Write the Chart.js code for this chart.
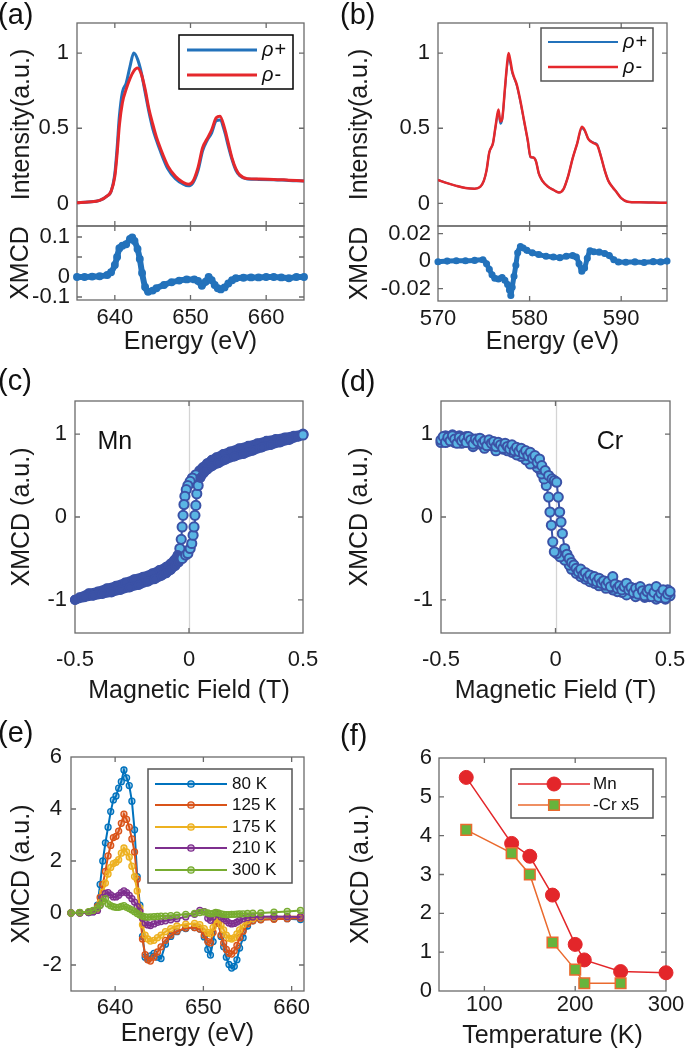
<!DOCTYPE html>
<html><head><meta charset="utf-8">
<script src="https://cdn.jsdelivr.net/npm/chart.js@4.4.1/dist/chart.umd.min.js"></script>
<style>
html,body{margin:0;padding:0;background:#fff;}
#fig{position:relative;width:685px;height:1051px;overflow:hidden;background:#fff;font-family:"Liberation Sans",Arial,sans-serif;}
#fig canvas{position:absolute;}
.plab{position:absolute;font-size:29px;line-height:29px;color:#111;white-space:nowrap;}
</style></head><body>
<div id="fig">
<canvas id="cA1"></canvas><canvas id="cA2"></canvas>
<canvas id="cB1"></canvas><canvas id="cB2"></canvas>
<canvas id="cC"></canvas><canvas id="cD"></canvas>
<canvas id="cE"></canvas><canvas id="cF"></canvas>
<div class="plab" style="left:-2px;top:0px">(a)</div>
<div class="plab" style="left:340px;top:0px">(b)</div>
<div class="plab" style="left:-2px;top:366px">(c)</div>
<div class="plab" style="left:340px;top:367px">(d)</div>
<div class="plab" style="left:-2px;top:718px">(e)</div>
<div class="plab" style="left:340px;top:721px">(f)</div>
</div>
<script>
// ---------------- DATA ----------------
// (a) Mn L-edge XAS
const aEnergy = [635, 636.5, 638, 639, 639.5, 640, 640.3, 640.6, 641, 641.5, 642, 642.5, 643, 643.5, 644, 644.5, 645, 645.5, 646, 647, 648, 649, 649.7, 650.3, 651, 651.6, 652.2, 652.8, 653.4, 653.9, 654.5, 655, 655.5, 656, 656.5, 657.5, 659, 661, 663, 665];
const aRhoPlus = [0.005, 0.01, 0.02, 0.05, 0.08, 0.2, 0.37, 0.58, 0.74, 0.80, 0.91, 1.0, 0.96, 0.87, 0.74, 0.61, 0.50, 0.42, 0.35, 0.23, 0.165, 0.13, 0.117, 0.135, 0.22, 0.35, 0.42, 0.47, 0.55, 0.555, 0.48, 0.38, 0.29, 0.22, 0.185, 0.162, 0.16, 0.158, 0.153, 0.15];
const aRhoMinus = [0.005, 0.01, 0.02, 0.05, 0.08, 0.18, 0.33, 0.52, 0.67, 0.76, 0.83, 0.88, 0.90, 0.86, 0.76, 0.63, 0.53, 0.44, 0.37, 0.25, 0.18, 0.14, 0.127, 0.145, 0.24, 0.37, 0.43, 0.49, 0.57, 0.58, 0.50, 0.40, 0.30, 0.23, 0.19, 0.165, 0.162, 0.16, 0.155, 0.15];
const aXmcdE = [635, 636, 637, 638, 639, 639.5, 640, 640.3, 640.6, 641, 641.5, 642, 642.3, 642.6, 643, 643.3, 643.6, 644, 644.4, 645, 645.5, 646.5, 647.5, 648.5, 649.5, 650.5, 651, 651.5, 652, 652.4, 652.8, 653.2, 653.6, 654, 654.5, 655, 655.5, 656, 657, 658, 659, 660, 661, 662, 663, 664, 665];
const aXmcd = [0, 0, 0.001, 0.002, 0.005, 0.012, 0.03, 0.05, 0.072, 0.078, 0.082, 0.095, 0.099, 0.09, 0.07, 0.045, 0.01, -0.025, -0.037, -0.034, -0.028, -0.02, -0.013, -0.009, -0.006, -0.006, -0.01, -0.022, -0.012, 0, -0.008, -0.02, -0.028, -0.031, -0.026, -0.016, -0.008, -0.003, -0.002, -0.001, -0.001, 0, 0, -0.001, -0.003, 0, 0];

// (b) Cr L-edge XAS
const bEnergy = [570, 571, 572, 573, 574, 574.6, 575, 575.3, 575.6, 576, 576.3, 576.6, 576.8, 577, 577.3, 577.5, 577.7, 577.9, 578.1, 578.3, 578.6, 579, 579.4, 579.8, 580.1, 580.4, 580.7, 581, 581.4, 582, 582.6, 583.2, 583.7, 584.2, 584.7, 585.2, 585.7, 586, 586.4, 587, 587.4, 587.8, 588.2, 588.6, 589.1, 589.5, 590, 590.7, 592, 593.5, 595];
const bRhoPlus = [0.156, 0.135, 0.117, 0.103, 0.098, 0.11, 0.15, 0.22, 0.34, 0.40, 0.515, 0.61, 0.53, 0.555, 0.75, 0.89, 0.97, 0.93, 0.87, 0.835, 0.785, 0.675, 0.545, 0.415, 0.305, 0.305, 0.28, 0.2, 0.15, 0.112, 0.09, 0.073, 0.095, 0.18, 0.30, 0.40, 0.50, 0.485, 0.43, 0.405, 0.39, 0.31, 0.22, 0.15, 0.105, 0.075, 0.035, 0.012, 0.008, 0.006, 0.004];
const bRhoMinus = [0.156, 0.135, 0.117, 0.103, 0.098, 0.11, 0.15, 0.22, 0.34, 0.40, 0.52, 0.625, 0.545, 0.56, 0.76, 0.90, 1.0, 0.95, 0.88, 0.84, 0.79, 0.68, 0.55, 0.42, 0.31, 0.305, 0.28, 0.2, 0.15, 0.112, 0.09, 0.073, 0.095, 0.18, 0.30, 0.40, 0.51, 0.49, 0.43, 0.40, 0.385, 0.31, 0.22, 0.15, 0.105, 0.075, 0.035, 0.012, 0.008, 0.006, 0.004];
const bXmcdE = [570, 571, 572, 573, 574, 574.9, 575.3, 575.6, 575.9, 576.2, 576.6, 577, 577.3, 577.6, 577.8, 577.95, 578.1, 578.3, 578.5, 578.7, 579, 579.3, 579.7, 580.3, 581, 581.8, 582.6, 583.3, 584, 584.7, 585.1, 585.4, 585.7, 586, 586.3, 586.6, 587, 587.6, 588.2, 588.7, 589.2, 589.7, 590.5, 591.5, 592.5, 593.5, 594.3, 595];
const bXmcd = [-0.0005, 0, 0.0003, 0.0002, 0.0005, 0.001, -0.002, -0.006, -0.01, -0.0125, -0.013, -0.012, -0.014, -0.017, -0.021, -0.025, -0.019, -0.011, -0.003, 0.006, 0.0105, 0.0095, 0.0078, 0.006, 0.0048, 0.0035, 0.003, 0.0025, 0.0035, 0.004, 0.003, -0.002, -0.0073, -0.005, 0.002, 0.0075, 0.0068, 0.0065, 0.0055, 0.004, 0.001, -0.0007, -0.0008, -0.0006, -0.001, -0.0004, -0.0006, 0];

// (c) Mn hysteresis
const cDownField = [0.5, 0.46, 0.42, 0.38, 0.34, 0.3, 0.26, 0.22, 0.18, 0.15, 0.12, 0.1, 0.08, 0.06, 0.045, 0.03, 0.015, 0.005, -0.005, -0.012, -0.018, -0.022, -0.026, -0.03, -0.034, -0.04, -0.05, -0.065, -0.08, -0.1, -0.13, -0.16, -0.2, -0.24, -0.28, -0.32, -0.36, -0.4, -0.44, -0.48, -0.5];
const cDownXmcd = [1.0, 0.98, 0.96, 0.94, 0.92, 0.89, 0.86, 0.83, 0.79, 0.76, 0.72, 0.69, 0.65, 0.6, 0.56, 0.51, 0.47, 0.43, 0.38, 0.33, 0.25, 0.15, 0.02, -0.12, -0.27, -0.38, -0.46, -0.52, -0.56, -0.6, -0.64, -0.68, -0.72, -0.75, -0.79, -0.83, -0.86, -0.9, -0.92, -0.97, -1.0];
const cUpField = [-0.5, -0.46, -0.42, -0.38, -0.34, -0.3, -0.26, -0.22, -0.18, -0.15, -0.12, -0.1, -0.08, -0.06, -0.045, -0.03, -0.015, -0.005, 0.005, 0.012, 0.018, 0.022, 0.026, 0.03, 0.034, 0.04, 0.05, 0.065, 0.08, 0.1, 0.13, 0.16, 0.2, 0.24, 0.28, 0.32, 0.36, 0.4, 0.44, 0.48, 0.5];
const cUpXmcd = [-1.0, -0.97, -0.95, -0.93, -0.91, -0.88, -0.85, -0.82, -0.78, -0.75, -0.71, -0.68, -0.64, -0.59, -0.55, -0.5, -0.46, -0.44, -0.38, -0.32, -0.22, -0.12, 0.02, 0.14, 0.28, 0.38, 0.47, 0.53, 0.57, 0.61, 0.65, 0.69, 0.73, 0.76, 0.8, 0.84, 0.87, 0.9, 0.93, 0.97, 0.99];

// (d) Cr hysteresis
const dUpField = [
  -0.5, -0.49, -0.48, -0.47, -0.46, -0.45, -0.44, -0.43, -0.42, -0.41,
  -0.4, -0.39, -0.38, -0.37, -0.36, -0.35, -0.34, -0.33, -0.32, -0.31,
  -0.3, -0.29, -0.28, -0.27, -0.26, -0.25, -0.24, -0.23, -0.22, -0.21,
  -0.2, -0.19, -0.18, -0.17, -0.16, -0.15, -0.14, -0.13, -0.12, -0.11,
  -0.1, -0.09, -0.08, -0.07, -0.06,
  -0.045, -0.03, -0.015, -0.005, 0.005, 0.012, 0.018, 0.024, 0.03, 0.04, 0.05,
  0.06, 0.07, 0.08, 0.09, 0.1, 0.11, 0.12, 0.13, 0.14, 0.15,
  0.16, 0.17, 0.18, 0.19, 0.2, 0.21, 0.22, 0.23, 0.24, 0.25,
  0.26, 0.27, 0.28, 0.29, 0.3, 0.31, 0.32, 0.33, 0.34, 0.35,
  0.36, 0.37, 0.38, 0.39, 0.4, 0.41, 0.42, 0.43, 0.44, 0.45,
  0.46, 0.47, 0.48, 0.49, 0.5];
const dUpXmcd = [
  0.93, 0.97, 0.90, 0.96, 0.92, 0.98, 0.94, 0.89, 0.96, 0.92,
  0.95, 0.90, 0.97, 0.93, 0.88, 0.94, 0.91, 0.95, 0.89, 0.92,
  0.86, 0.93, 0.89, 0.91, 0.85, 0.90, 0.87, 0.83, 0.89, 0.85,
  0.82, 0.87, 0.80, 0.84, 0.79, 0.83, 0.76, 0.80, 0.74, 0.78,
  0.71, 0.74, 0.66, 0.70, 0.62,
  0.56, 0.50, 0.46, 0.44, 0.42, 0.24, 0.06, -0.06, -0.2, -0.38, -0.45,
  -0.50, -0.55, -0.58, -0.62, -0.66, -0.63, -0.70, -0.67, -0.73, -0.70,
  -0.76, -0.72, -0.78, -0.74, -0.80, -0.77, -0.82, -0.78, -0.84, -0.72,
  -0.81, -0.86, -0.83, -0.88, -0.84, -0.80, -0.88, -0.85, -0.91, -0.86,
  -0.93, -0.84, -0.89, -0.95, -0.90, -0.87, -0.96, -0.91, -0.84, -0.97,
  -0.92, -0.88, -0.98, -0.93, -0.90];
const dDownField = [
  0.5, 0.49, 0.48, 0.47, 0.46, 0.45, 0.44, 0.43, 0.42, 0.41,
  0.4, 0.39, 0.38, 0.37, 0.36, 0.35, 0.34, 0.33, 0.32, 0.31,
  0.3, 0.29, 0.28, 0.27, 0.26, 0.25, 0.24, 0.23, 0.22, 0.21,
  0.2, 0.19, 0.18, 0.17, 0.16, 0.15, 0.14, 0.13, 0.12, 0.11,
  0.1, 0.09, 0.08, 0.07, 0.06,
  0.04, 0.02, 0.005, -0.005, -0.012, -0.018, -0.024, -0.03, -0.04, -0.05,
  -0.06, -0.07, -0.08, -0.09, -0.1, -0.11, -0.12, -0.13, -0.14, -0.15,
  -0.16, -0.17, -0.18, -0.19, -0.2, -0.21, -0.22, -0.23, -0.24, -0.25,
  -0.26, -0.27, -0.28, -0.29, -0.3, -0.31, -0.32, -0.33, -0.34, -0.35,
  -0.36, -0.37, -0.38, -0.39, -0.4, -0.41, -0.42, -0.43, -0.44, -0.45,
  -0.46, -0.47, -0.48, -0.49, -0.5];
const dDownXmcd = [
  -0.95, -0.88, -0.99, -0.93, -0.97, -0.90, -0.99, -0.94, -0.89, -0.96,
  -0.92, -0.97, -0.88, -0.94, -0.91, -0.96, -0.87, -0.92, -0.89, -0.94,
  -0.85, -0.91, -0.87, -0.90, -0.82, -0.88, -0.85, -0.80, -0.86, -0.82,
  -0.78, -0.83, -0.76, -0.80, -0.74, -0.78, -0.71, -0.75, -0.69, -0.72,
  -0.66, -0.68, -0.62, -0.63, -0.58,
  -0.52, -0.48, -0.44, -0.42, -0.3, -0.1, 0.06, 0.24, 0.38, 0.46,
  0.52, 0.58, 0.60, 0.65, 0.68, 0.64, 0.72, 0.69, 0.76, 0.73,
  0.79, 0.75, 0.82, 0.78, 0.84, 0.80, 0.86, 0.82, 0.88, 0.84,
  0.80, 0.89, 0.86, 0.91, 0.87, 0.83, 0.92, 0.88, 0.94, 0.90,
  0.85, 0.95, 0.91, 0.97, 0.93, 0.89, 0.98, 0.94, 0.90, 0.99,
  0.95, 0.91, 0.98, 0.94, 0.90];

// (e) Mn XMCD vs temperature
const eEnergy = [635, 636, 637, 637.5, 638, 638.3, 638.6, 638.9, 639.2, 639.5, 639.8, 640.1, 640.4, 640.7, 641, 641.3, 641.6, 641.9, 642.2, 642.5, 642.8, 643.1, 643.4, 643.7, 644, 644.4, 644.8, 645.2, 645.7, 646.3, 647, 648, 649, 649.6, 650.1, 650.5, 650.8, 651.1, 651.4, 651.7, 652, 652.3, 652.6, 652.9, 653.2, 653.5, 653.8, 654.1, 654.5, 655, 655.6, 656.5, 658, 659.5, 661];
const eLabels = ['80 K', '125 K', '175 K', '210 K', '300 K'];
const e80 = [0, 0.01, 0.02, 0.05, 0.3, 1.1, 2.0, 2.7, 3.3, 3.9, 4.35, 4.5, 4.8, 5.05, 5.5, 5.2, 4.9, 4.3, 3.2, 1.4, 0.3, -0.9, -1.7, -1.78, -1.65, -1.55, -1.7, -1.75, -1.2, -0.9, -0.72, -0.6, -0.56, -0.62, -0.92, -1.4, -1.62, -1.1, -0.4, -0.35, -0.9, -1.3, -1.7, -1.98, -2.12, -2.05, -1.8, -1.35, -0.95, -0.5, -0.3, -0.25, -0.22, -0.22, -0.25];
const e125 = [0, 0.01, 0.03, 0.08, 0.25, 0.6, 1.1, 1.6, 2.2, 2.6, 2.9, 2.95, 3.15, 3.45, 3.8, 3.6, 3.3, 2.85, 2.35, 1.3, 0.1, -1.0, -1.6, -1.8, -1.85, -1.7, -1.5, -1.3, -1.05, -0.85, -0.7, -0.58, -0.56, -0.62, -0.85, -1.1, -1.15, -0.75, -0.35, -0.4, -0.85, -1.15, -1.4, -1.55, -1.58, -1.45, -1.25, -0.95, -0.7, -0.42, -0.3, -0.26, -0.24, -0.22, -0.2];
const e175 = [0, 0.01, 0.03, 0.06, 0.15, 0.4, 0.8, 1.15, 1.5, 1.75, 1.9, 1.95, 2.05, 2.3, 2.5, 2.35, 2.15, 1.8, 1.4, 0.85, 0.2, -0.45, -0.85, -1.0, -1.08, -1.05, -0.95, -0.85, -0.72, -0.6, -0.5, -0.43, -0.4, -0.45, -0.6, -0.75, -0.8, -0.55, -0.25, -0.2, -0.45, -0.65, -0.85, -0.97, -1.0, -0.95, -0.8, -0.65, -0.45, -0.3, -0.22, -0.18, -0.15, -0.14, -0.13];
const e210 = [0, 0, 0.02, 0.04, 0.1, 0.3, 0.6, 0.75, 0.78, 0.7, 0.62, 0.62, 0.68, 0.78, 0.85, 0.78, 0.68, 0.55, 0.42, 0.25, 0.05, -0.2, -0.38, -0.46, -0.48, -0.42, -0.36, -0.33, -0.3, -0.26, -0.22, -0.15, -0.05, 0.1, 0.05, -0.2, -0.28, -0.15, 0, -0.05, -0.15, -0.22, -0.3, -0.38, -0.42, -0.4, -0.35, -0.28, -0.22, -0.18, -0.15, -0.14, -0.13, -0.14, -0.15];
const e300 = [0, 0.02, 0.05, 0.1, 0.2, 0.3, 0.45, 0.55, 0.35, 0.28, 0.24, 0.22, 0.22, 0.25, 0.28, 0.22, 0.17, 0.12, 0.05, -0.02, -0.08, -0.12, -0.15, -0.16, -0.15, -0.14, -0.13, -0.12, -0.12, -0.1, -0.08, -0.05, -0.02, 0.02, 0.04, 0, -0.03, -0.02, 0.02, 0, -0.03, -0.05, -0.06, -0.06, -0.05, -0.05, -0.04, -0.03, -0.03, -0.02, -0.01, 0, 0.03, 0.06, 0.1];

// (f) XMCD amplitude vs temperature
const fMnTemp = [80, 130, 150, 175, 200, 210, 250, 300];
const fMn = [5.5, 3.8, 3.47, 2.47, 1.2, 0.8, 0.5, 0.47];
const fCrTemp = [80, 130, 150, 175, 200, 210, 250];
const fCr = [4.15, 3.55, 3.0, 1.25, 0.55, 0.2, 0.2];

// ticks
const aXTicks = [640, 650, 660], aXTickLabels = ['640', '650', '660'];
const aYTicks = [0, 0.5, 1], aYTickLabels = ['0', '0.5', '1'];
const aXmcdTicks = [-0.05, 0, 0.05, 0.1], aXmcdTickLabels = ['-0.1', '0', '', '0.1'];
const bXTicks = [570, 580, 590], bXTickLabels = ['570', '580', '590'];
const bXmcdTicks = [-0.02, 0, 0.02], bXmcdTickLabels = ['-0.02', '0', '0.02'];
const hTicks = [-0.5, 0, 0.5], hTickLabels = ['-0.5', '0', '0.5'];
const hYTicks = [-1, 0, 1], hYTickLabels = ['-1', '0', '1'];
const eXTicks = [640, 650, 660], eXTickLabels = ['640', '650', '660'];
const eYTicks = [-2, 0, 2, 4, 6], eYTickLabels = ['-2', '0', '2', '4', '6'];
const fXTicks = [100, 200, 300], fXTickLabels = ['100', '200', '300'];
const fYTicks = [0, 1, 2, 3, 4, 5, 6], fYTickLabels = ['0', '1', '2', '3', '4', '5', '6'];

// ---------------- RENDERING ----------------
const FONT = '"Liberation Sans", Arial, Helvetica, sans-serif';
Chart.defaults.font.family = FONT;
Chart.defaults.color = '#1a1a1a';
Chart.defaults.animation = false;
Chart.defaults.events = [];

const pts = (xs, ys) => xs.map((x, i) => ({x, y: ys[i]}));

const matlabAxes = {
  id: 'matlabAxes',
  beforeDatasetsDraw(chart, args, o) {
    const {ctx, chartArea: a, scales: {x, y}} = chart;
    ctx.save();
    if (o && o.zeroLine) {
      const px = Math.round(x.getPixelForValue(0)) + 0.5;
      ctx.strokeStyle = '#d4d4d4'; ctx.lineWidth = 1.3;
      ctx.beginPath(); ctx.moveTo(px, a.top); ctx.lineTo(px, a.bottom); ctx.stroke();
    }
    ctx.strokeStyle = '#6a6a6a'; ctx.lineWidth = 1.3;
    const L = 5;
    ctx.beginPath();
    x.ticks.forEach(t => {
      const p = x.getPixelForValue(t.value);
      if (p <= a.left + 1 || p >= a.right - 1) return;
      ctx.moveTo(p, a.bottom); ctx.lineTo(p, a.bottom - L);
      ctx.moveTo(p, a.top); ctx.lineTo(p, a.top + L);
    });
    y.ticks.forEach(t => {
      const p = y.getPixelForValue(t.value);
      if (p <= a.top + 1 || p >= a.bottom - 1) return;
      ctx.moveTo(a.left, p); ctx.lineTo(a.left + L, p);
      ctx.moveTo(a.right, p); ctx.lineTo(a.right - L, p);
    });
    ctx.stroke();
    ctx.strokeRect(a.left, a.top, a.right - a.left, a.bottom - a.top);
    ctx.restore();
  }
};

const boxLegend = {
  id: 'boxLegend',
  afterDatasetsDraw(chart, args, o) {
    if (!o || !o.box) return;
    const ctx = chart.ctx;
    const [bx, by, bw, bh] = o.box;
    ctx.save();
    ctx.fillStyle = '#fff';
    ctx.fillRect(bx, by, bw, bh);
    ctx.strokeStyle = o.border || '#000'; ctx.lineWidth = 1.5;
    ctx.strokeRect(bx, by, bw, bh);
    let i = 0;
    chart.data.datasets.forEach(ds => {
      if (!ds.label) return;
      const yy = o.rows[i++];
      ctx.strokeStyle = ds.borderColor; ctx.lineWidth = ds.borderWidth;
      ctx.beginPath(); ctx.moveTo(o.lx0, yy); ctx.lineTo(o.lx1, yy); ctx.stroke();
      if (ds.legendMarker) {
        ctx.fillStyle = ds.pointBackgroundColor; ctx.strokeStyle = ds.pointBorderColor; ctx.lineWidth = ds.pointBorderWidth;
        Chart.helpers.drawPoint(ctx, {pointStyle: ds.pointStyle || 'circle', radius: ds.legendMarker, rotation: 0, borderWidth: ds.pointBorderWidth}, (o.lx0 + o.lx1) / 2, yy);
      }
      ctx.fillStyle = '#111'; ctx.textBaseline = 'middle'; ctx.textAlign = 'left';
      if (o.italicFirst) {
        ctx.font = 'italic ' + o.font;
        const first = ds.label.charAt(0);
        ctx.fillText(first, o.tx, yy);
        const w = ctx.measureText(first).width;
        ctx.font = o.font;
        ctx.fillText(ds.label.slice(1), o.tx + w + 1, yy);
      } else {
        ctx.font = o.font;
        ctx.fillText(ds.label, o.tx, yy);
      }
    });
    ctx.restore();
  }
};

const textNote = {
  id: 'textNote',
  afterDatasetsDraw(chart, args, o) {
    if (!o || !o.text) return;
    const ctx = chart.ctx;
    ctx.save();
    ctx.font = o.font; ctx.fillStyle = '#111'; ctx.textAlign = 'center'; ctx.textBaseline = 'middle';
    ctx.fillText(o.text, chart.scales.x.getPixelForValue(o.x), chart.scales.y.getPixelForValue(o.y));
    ctx.restore();
  }
};
Chart.register(matlabAxes, boxLegend, textNote);

function axis(o, isX, rect, box) {
  return {
    type: 'linear', position: isX ? 'bottom' : 'left', min: o.min, max: o.max, bounds: 'data',
    afterBuildTicks: s => { s.ticks = o.ticks.map(v => ({value: v})); },
    afterFit: s => {
      if (isX) { s.height = rect.t + rect.h - box.y1; s.paddingLeft = 0; s.paddingRight = 0; }
      else { s.width = box.x0 - rect.l; s.paddingTop = 0; s.paddingBottom = 0; }
    },
    grid: {display: false, drawTicks: false},
    border: {display: false},
    ticks: {display: o.showLabels !== false, autoSkip: false, maxRotation: 0, minRotation: 0,
      padding: o.tickPad || 0, font: {size: 22}, color: '#1a1a1a',
      callback: (v, i) => o.labels[i]},
    title: o.title ? {display: true, text: o.title, font: {size: 25}, color: '#1a1a1a',
      padding: isX ? {top: 0, bottom: o.titlePad} : {top: o.titlePad, bottom: 0}} : {display: false}
  };
}

function panel(id, rect, box, datasets, xo, yo, plug) {
  const cv = document.getElementById(id);
  cv.width = rect.w; cv.height = rect.h;
  cv.style.left = rect.l + 'px'; cv.style.top = rect.t + 'px';
  cv.style.width = rect.w + 'px'; cv.style.height = rect.h + 'px';
  return new Chart(cv, {
    type: 'line',
    data: {datasets},
    options: {
      responsive: false, maintainAspectRatio: false, animation: false, devicePixelRatio: 1,
      layout: {padding: {left: 0, top: box.y0 - rect.t, right: rect.l + rect.w - box.x1, bottom: 0}},
      scales: {x: axis(xo, true, rect, box), y: axis(yo, false, rect, box)},
      plugins: Object.assign({legend: {display: false}, tooltip: {enabled: false}}, plug || {})
    }
  });
}

const BLUE = '#2372bb', RED = '#e5282c';

// (a) top
panel('cA1', {l: 0, t: 0, w: 340, h: 232}, {x0: 77, y0: 23, x1: 304, y1: 226}, [
  {label: 'ρ+', data: pts(aEnergy, aRhoPlus), borderColor: BLUE, borderWidth: 3, pointRadius: 0, cubicInterpolationMode: 'monotone', order: 1},
  {label: 'ρ-', data: pts(aEnergy, aRhoMinus), borderColor: RED, borderWidth: 3, pointRadius: 0, cubicInterpolationMode: 'monotone', order: 0}
], {min: 635, max: 665, ticks: aXTicks, labels: aXTickLabels, showLabels: false},
   {min: -0.15, max: 1.2, ticks: aYTicks, labels: aYTickLabels, tickPad: 8, title: 'Intensity(a.u.)', titlePad: 7},
   {boxLegend: {box: [179, 35, 114, 54], border: '#000', rows: [50, 75], lx0: 187, lx1: 257, tx: 262, font: '20px ' + FONT, italicFirst: true}});

// (a) bottom
panel('cA2', {l: 0, t: 220, w: 340, h: 140}, {x0: 77, y0: 226, x1: 304, y1: 300}, [
  {data: pts(aXmcdE, aXmcd), borderColor: BLUE, borderWidth: 6, pointRadius: 3.2, pointBorderWidth: 1.5, pointBackgroundColor: BLUE, pointBorderColor: BLUE, cubicInterpolationMode: 'monotone', clip: 6}
], {min: 635, max: 665, ticks: aXTicks, labels: aXTickLabels, tickPad: 5, title: 'Energy (eV)', titlePad: 3},
   {min: -0.0575, max: 0.1275, ticks: aXmcdTicks, labels: aXmcdTickLabels, tickPad: 7, title: 'XMCD', titlePad: 6});

// (b) top
panel('cB1', {l: 340, t: 0, w: 345, h: 232}, {x0: 438, y0: 23, x1: 667, y1: 226}, [
  {label: 'ρ+', data: pts(bEnergy, bRhoPlus), borderColor: BLUE, borderWidth: 2, pointRadius: 0, cubicInterpolationMode: 'monotone', order: 1},
  {label: 'ρ-', data: pts(bEnergy, bRhoMinus), borderColor: RED, borderWidth: 2.5, pointRadius: 0, cubicInterpolationMode: 'monotone', order: 0}
], {min: 570, max: 595, ticks: bXTicks, labels: bXTickLabels, showLabels: false},
   {min: -0.15, max: 1.2, ticks: aYTicks, labels: aYTickLabels, tickPad: 8, title: 'Intensity(a.u.)', titlePad: 5},
   {boxLegend: {box: [201, 28, 112, 53], border: '#555', rows: [42, 67], lx0: 208, lx1: 278, tx: 283, font: '20px ' + FONT, italicFirst: true}});

// (b) bottom
panel('cB2', {l: 340, t: 220, w: 345, h: 140}, {x0: 438, y0: 226, x1: 667, y1: 301}, [
  {data: pts(bXmcdE, bXmcd), borderColor: BLUE, borderWidth: 5, pointRadius: 2.8, pointBorderWidth: 1.5, pointBackgroundColor: BLUE, pointBorderColor: BLUE, cubicInterpolationMode: 'monotone', clip: 6}
], {min: 570, max: 595, ticks: bXTicks, labels: bXTickLabels, tickPad: 5, title: 'Energy (eV)', titlePad: 3},
   {min: -0.029, max: 0.0255, ticks: bXmcdTicks, labels: bXmcdTickLabels, tickPad: 7, title: 'XMCD', titlePad: 5});

// (c)
const HDARK = '#3b52a6', HLIGHT = '#5ab5e4';
const loopPt = ctx => Math.abs(ctx.raw.x) < 0.045 || ctx.raw.x === 0.5;
const hystC = (field, vals) => ({
  data: pts(field, vals), borderColor: HDARK, borderWidth: 2, borderJoinStyle: 'round', borderCapStyle: 'round',
  segment: {borderWidth: ctx => (Math.abs(ctx.p0.parsed.x) >= 0.045 && Math.abs(ctx.p1.parsed.x) >= 0.045) ? 9 : 2},
  pointRadius: ctx => loopPt(ctx) ? 4.6 : 4, pointBorderWidth: 2, pointBorderColor: HDARK,
  pointBackgroundColor: ctx => loopPt(ctx) ? HLIGHT : HDARK, clip: false
});
panel('cC', {l: 0, t: 380, w: 340, h: 330}, {x0: 75, y0: 401, x1: 303, y1: 633}, [
  hystC(cUpField, cUpXmcd), hystC(cDownField, cDownXmcd)
], {min: -0.5, max: 0.5, ticks: hTicks, labels: hTickLabels, tickPad: 14, title: 'Magnetic Field (T)', titlePad: 4},
   {min: -1.4, max: 1.4, ticks: hYTicks, labels: hYTickLabels, tickPad: 8, title: 'XMCD (a.u.)', titlePad: 7},
   {matlabAxes: {zeroLine: true}, textNote: {text: 'Mn', x: -0.325, y: 0.9, font: '25px ' + FONT}});

// (d)
const hystD = (field, vals) => ({
  data: pts(field, vals), borderColor: HDARK, borderWidth: 2,
  pointRadius: 4.6, pointBorderWidth: 2, pointBorderColor: HDARK, pointBackgroundColor: HLIGHT, clip: false
});
panel('cD', {l: 340, t: 380, w: 345, h: 330}, {x0: 441, y0: 401, x1: 670, y1: 633}, [
  hystD(dUpField, dUpXmcd), hystD(dDownField, dDownXmcd)
], {min: -0.5, max: 0.5, ticks: hTicks, labels: hTickLabels, tickPad: 14, title: 'Magnetic Field (T)', titlePad: 4},
   {min: -1.4, max: 1.4, ticks: hYTicks, labels: hYTickLabels, tickPad: 8, title: 'XMCD (a.u.)', titlePad: 5},
   {matlabAxes: {zeroLine: true}, textNote: {text: 'Cr', x: 0.238, y: 0.9, font: '25px ' + FONT}});

// (e)
const eColors = ['#0072BD', '#D95319', '#EDB120', '#7E2F8E', '#77AC30'];
const eFills = ['rgba(0,114,189,0.35)', 'rgba(217,83,25,0.35)', 'rgba(237,177,32,0.45)', 'rgba(126,47,142,0.35)', 'rgba(119,172,48,0.4)'];
const eSeries = [e80, e125, e175, e210, e300];
panel('cE', {l: 0, t: 740, w: 340, h: 311}, {x0: 71, y0: 757, x1: 304, y1: 991},
  eSeries.map((s, k) => ({
    label: eLabels[k], data: pts(eEnergy, s), borderColor: eColors[k], borderWidth: 2,
    pointRadius: 3, pointBorderWidth: 1.3, pointBorderColor: eColors[k], pointBackgroundColor: eFills[k],
    legendMarker: 3.2, order: 4 - k, clip: 4
  })),
  {min: 635, max: 661.4, ticks: eXTicks, labels: eXTickLabels, tickPad: 4, title: 'Energy (eV)', titlePad: 2},
  {min: -3, max: 6, ticks: eYTicks, labels: eYTickLabels, tickPad: 9, title: 'XMCD (a.u.)', titlePad: 7},
  {boxLegend: {box: [148, 29, 144, 114], border: '#555', rows: [44, 65, 87, 108, 130], lx0: 155, lx1: 227, tx: 232, font: '17px ' + FONT}});

// (f)
panel('cF', {l: 340, t: 740, w: 345, h: 311}, {x0: 439, y0: 758, x1: 666, y1: 991}, [
  {label: 'Mn', data: pts(fMnTemp, fMn), borderColor: '#e3262a', borderWidth: 1.5, pointRadius: 7, pointBorderWidth: 1,
   pointBackgroundColor: '#e3262a', pointBorderColor: '#e3262a', legendMarker: 7, order: 1, clip: false},
  {label: '-Cr x5', data: pts(fCrTemp, fCr), borderColor: '#ea6a2e', borderWidth: 1.5, pointStyle: 'rect', pointRadius: 7.5, pointBorderWidth: 1.5,
   pointBackgroundColor: '#67b43c', pointBorderColor: '#ea6a2e', legendMarker: 7.5, order: 0, clip: false}
], {min: 50, max: 300, ticks: fXTicks, labels: fXTickLabels, tickPad: 1, title: 'Temperature (K)', titlePad: 0},
   {min: 0, max: 6, ticks: fYTicks, labels: fYTickLabels, tickPad: 7, title: 'XMCD (a.u.)', titlePad: 6},
   {boxLegend: {box: [171, 29, 142, 49], border: '#555', rows: [44, 65], lx0: 178, lx1: 250, tx: 253, font: '17px ' + FONT}});
</script>
</body></html>
